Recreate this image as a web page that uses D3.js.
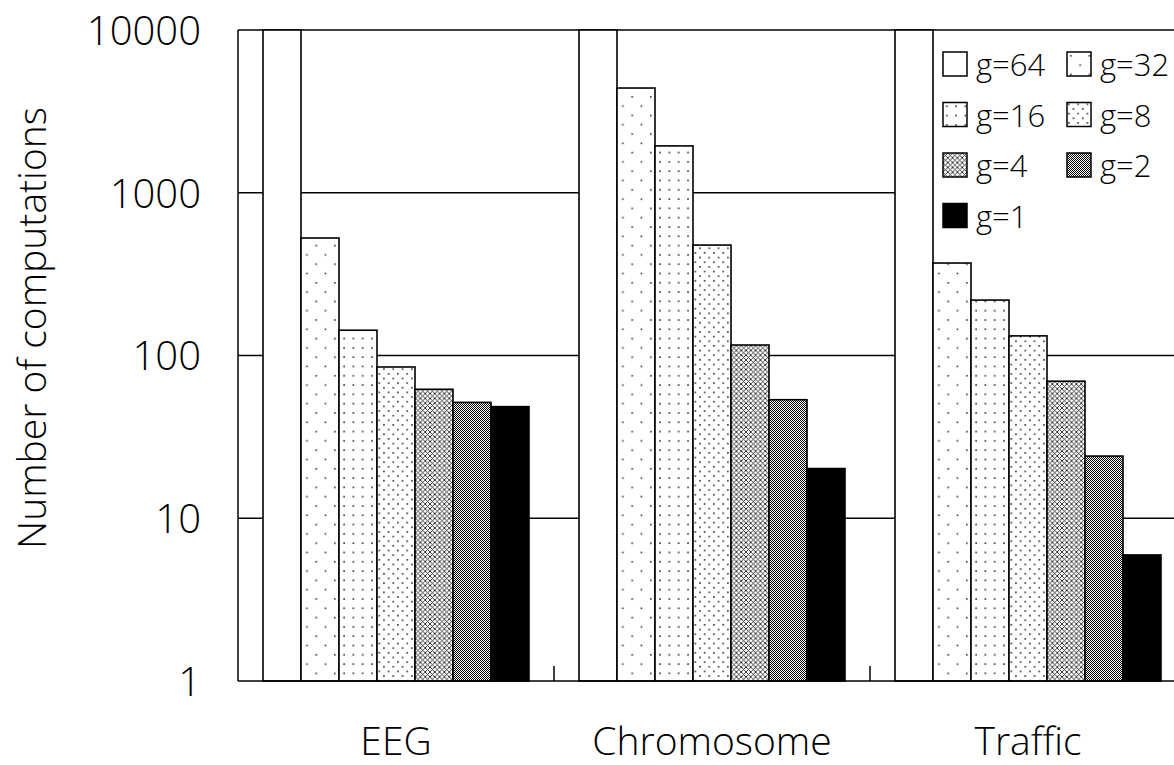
<!DOCTYPE html>
<html>
<head>
<meta charset="utf-8">
<script src="https://cdn.jsdelivr.net/npm/d3@7/dist/d3.min.js"></script>
<style>
  html, body { margin: 0; padding: 0; background: #fff; }
  svg { display: block; font-family: "Open Sans", "Liberation Sans", Arial, sans-serif; font-weight: 300; }
</style>
</head>
<body>
<svg id="chart" width="1174" height="765"></svg>
<script>
// ---- data ----
const categories = ["EEG", "Chromosome", "Traffic"];
const seriesNames = ["g=64", "g=32", "g=16", "g=8", "g=4", "g=2", "g=1"];
const valuesEEG = [10000, 527, 143, 85, 62, 51.5, 48.5];
const valuesChromosome = [10000, 4400, 1940, 477, 116, 53.5, 20.2];
const valuesTraffic = [10000, 370, 219, 132, 69.5, 24.1, 5.95];
const yTickValues = [1, 10, 100, 1000, 10000];
const yTickLabels = ["1", "10", "100", "1000", "10000"];
const yTitle = "Number of computations";

const table = categories.map((c, i) => ({
  category: c,
  values: [valuesEEG, valuesChromosome, valuesTraffic][i]
}));

// ---- layout ----
const svg = d3.select("#chart");
const plotL = 238, plotT = 30, plotB = 681, bandW = 316;
const plotR = plotL + bandW * categories.length;

const x0 = d3.scaleBand().domain(categories).range([plotL, plotR]).padding(0);
const x1 = d3.scaleBand().domain(seriesNames).range([25, bandW - 25]).padding(0);
const y = d3.scaleLog().domain([1, 10000]).range([plotB, plotT]).clamp(true);

// ---- patterns ----
const defs = svg.append("defs");
function dotPattern(id, w, h, pts, r, col) {
  const p = defs.append("pattern").attr("id", id).attr("patternUnits", "userSpaceOnUse")
    .attr("width", w).attr("height", h);
  p.append("rect").attr("width", w).attr("height", h).attr("fill", "#fff");
  pts.forEach(([cx, cy]) => p.append("rect").attr("x", cx).attr("y", cy)
    .attr("width", r).attr("height", r).attr("fill", col));
}
dotPattern("p32", 18.6, 18.6, [[3, 3], [12.3, 12.3]], 1.6, "#333");
dotPattern("p16", 9.3, 9.3, [[3, 3]], 1.6, "#333");
dotPattern("p8", 9.3, 9.3, [[1, 1], [5.65, 5.65]], 1.6, "#333");
{
  const p = defs.append("pattern").attr("id", "p4").attr("patternUnits", "userSpaceOnUse")
    .attr("width", 4.8).attr("height", 4.8);
  p.append("rect").attr("width", 4.8).attr("height", 4.8).attr("fill", "#fff");
  p.append("path").attr("d", "M0,0L4.8,4.8M0,4.8L4.8,0").attr("stroke", "#222").attr("stroke-width", 0.9);
}
{
  const p = defs.append("pattern").attr("id", "p2").attr("patternUnits", "userSpaceOnUse")
    .attr("width", 2).attr("height", 2);
  p.append("rect").attr("width", 2).attr("height", 2).attr("fill", "#fff");
  p.append("rect").attr("width", 1).attr("height", 1).attr("fill", "#000");
  p.append("rect").attr("x", 1).attr("y", 1).attr("width", 1).attr("height", 1).attr("fill", "#000");
}
const fills = ["#fff", "url(#p32)", "url(#p16)", "url(#p8)", "url(#p4)", "url(#p2)", "#000"];
const fillOf = d3.scaleOrdinal().domain(seriesNames).range(fills);

// ---- gridlines ----
svg.append("g").selectAll("line").data(yTickValues.filter(v => v > 1 && v < 10000)).join("line")
  .attr("x1", plotL).attr("x2", plotR)
  .attr("y1", d => y(d)).attr("y2", d => y(d))
  .attr("stroke", "#000").attr("stroke-width", 1.5);

svg.append("line").attr("x1", plotL).attr("x2", plotR).attr("y1", plotT).attr("y2", plotT)
  .attr("stroke", "#000").attr("stroke-width", 1.5);

// ---- legend background ----
const legendX = 943, legendY = 52, colStep = 124, rowStep = 50.5;
svg.append("rect").attr("x", 932).attr("y", plotT + 1).attr("width", 260).attr("height", 215).attr("fill", "#fff");

// ---- bars ----
const groups = svg.append("g").selectAll("g").data(table).join("g")
  .attr("transform", d => `translate(${x0(d.category)},0)`);
groups.selectAll("rect").data(d => d.values.map((v, i) => ({ key: seriesNames[i], value: v })))
  .join("rect")
  .attr("x", d => x1(d.key))
  .attr("y", d => y(d.value))
  .attr("width", x1.bandwidth())
  .attr("height", d => plotB - y(d.value))
  .attr("fill", d => fillOf(d.key))
  .attr("stroke", "#000").attr("stroke-width", 1.6);

// ---- axes ----
const yAxis = svg.append("g");
yAxis.append("line").attr("x1", plotL).attr("x2", plotL).attr("y1", plotT).attr("y2", plotB)
  .attr("stroke", "#000").attr("stroke-width", 1.5);
yAxis.selectAll("text").data(yTickValues).join("text")
  .attr("x", 201).attr("y", d => y(d)).attr("dy", "0.37em")
  .attr("text-anchor", "end").attr("font-size", 40).attr("fill", "#000")
  .text((d, i) => yTickLabels[i]);

const xAxis = svg.append("g");
xAxis.append("line").attr("x1", plotL).attr("x2", plotR).attr("y1", plotB).attr("y2", plotB)
  .attr("stroke", "#000").attr("stroke-width", 1.5);
xAxis.selectAll("line.tick").data(categories).join("line").attr("class", "tick")
  .attr("x1", d => x0(d) + bandW).attr("x2", d => x0(d) + bandW)
  .attr("y1", plotB).attr("y2", plotB - 15)
  .attr("stroke", "#000").attr("stroke-width", 1.5);
xAxis.selectAll("text").data(categories).join("text")
  .attr("x", d => x0(d) + x0.bandwidth() / 2).attr("y", 755)
  .attr("text-anchor", "middle").attr("font-size", 39).attr("fill", "#000")
  .text(d => d);

svg.append("text")
  .attr("transform", `translate(46,328) rotate(-90)`)
  .attr("text-anchor", "middle").attr("font-size", 39).attr("fill", "#000")
  .text(yTitle);

// ---- legend ----
const leg = svg.append("g").selectAll("g").data(seriesNames).join("g")
  .attr("transform", (d, i) => `translate(${legendX + (i % 2) * colStep},${legendY + Math.floor(i / 2) * rowStep})`);
leg.append("rect").attr("width", 24).attr("height", 24)
  .attr("fill", d => fillOf(d)).attr("stroke", "#000").attr("stroke-width", 1.5);
leg.append("text").attr("x", 33).attr("y", 24).attr("font-size", 31).attr("fill", "#000")
  .text(d => d);
</script>
</body>
</html>
